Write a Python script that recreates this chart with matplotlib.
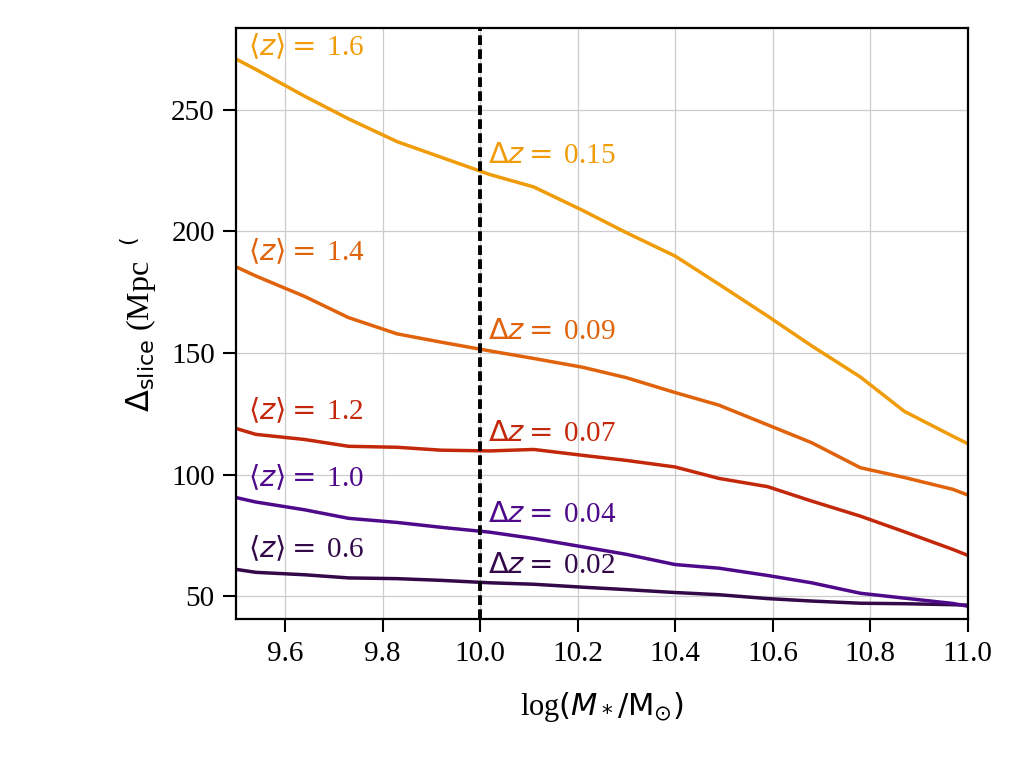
import numpy as np
import matplotlib
matplotlib.use('Agg')
import matplotlib.pyplot as plt

plt.rcParams['font.family'] = 'serif'
plt.rcParams['font.serif'] = ['Liberation Serif', 'DejaVu Serif']
plt.rcParams['mathtext.fontset'] = 'dejavusans'

# log stellar mass grid (bin centres, clipped at the axis edges)
log_mass = [9.50, 9.54, 9.64, 9.73, 9.83, 9.92, 10.02, 10.11, 10.21,
            10.30, 10.40, 10.49, 10.59, 10.68, 10.78, 10.87, 10.97, 11.00]

# slice thickness for each mean redshift
slice_z06 = [61.0, 59.8, 58.8, 57.5, 57.2, 56.5, 55.5, 54.9, 53.7,
             52.7, 51.5, 50.6, 49.0, 48.0, 47.1, 46.9, 46.5, 46.3]
slice_z10 = [90.5, 88.7, 85.5, 82.0, 80.3, 78.3, 76.3, 73.7, 70.3,
             67.2, 63.0, 61.5, 58.5, 55.5, 51.2, 49.2, 47.0, 45.9]
slice_z12 = [118.9, 116.5, 114.4, 111.6, 111.2, 110.0, 109.7, 110.3, 107.9,
             105.8, 103.1, 98.4, 95.0, 89.1, 82.9, 76.5, 69.2, 66.8]
slice_z14 = [185.3, 181.6, 173.2, 164.5, 157.8, 154.4, 150.8, 147.7, 144.1,
             139.8, 133.7, 128.5, 120.4, 113.1, 102.8, 98.8, 93.9, 91.6]
slice_z16 = [270.7, 266.5, 255.5, 246.2, 236.8, 230.4, 223.3, 218.2, 208.6,
             199.4, 189.8, 178.2, 165.1, 152.9, 140.1, 126.0, 115.7, 112.7]

z_labels = ["0.6", "1.0", "1.2", "1.4", "1.6"]
dz_labels = ["0.02", "0.04", "0.07", "0.09", "0.15"]
series = [slice_z06, slice_z10, slice_z12, slice_z14, slice_z16]
colors = ["#33094a", "#4f0a8c", "#c3280a", "#e0620a", "#f09c08"]

# label anchor heights (data units)
z_label_y = [69.8, 99.0, 126.5, 191.6, 275.9]
dz_label_y = [62.3, 83.3, 116.7, 158.6, 231.0]
mass_cut = 10.0

fig = plt.figure(figsize=(10.1, 7.58), dpi=100)
ax = fig.add_axes([0.234, 0.183, 0.724, 0.780])

for vals, col, zl, dzl, yz, ydz in zip(series, colors, z_labels, dz_labels,
                                        z_label_y, dz_label_y):
    ax.plot(log_mass, vals, color=col, lw=2.5)
    ax.text(9.523, yz, r"$\langle z\rangle =\,$" + zl, color=col, fontsize=21,
            va='center', ha='left')
    ax.text(10.017, ydz, r"$\Delta z =\,$" + dzl, color=col, fontsize=21,
            va='center', ha='left')

ax.axvline(mass_cut, color='black', lw=2.8, ls=(0, (2.5, 1.1)))

ax.set_xlim(9.5, 11.0)
ax.set_ylim(40.5, 283.5)
ax.set_xticks([9.6, 9.8, 10.0, 10.2, 10.4, 10.6, 10.8, 11.0])
ax.set_yticks([50, 100, 150, 200, 250])
ax.grid(color='#cccccc', lw=0.9)
ax.set_axisbelow(True)
ax.tick_params(direction='out', length=9.5, width=1.5, labelsize=21, pad=6)
for sp in ax.spines.values():
    sp.set_linewidth(1.6)

ax.set_xlabel(r"log$(M_*/\mathrm{M}_{\odot})$", fontsize=22, labelpad=17)
ax.set_ylabel(r"$\Delta_{\mathrm{slice}}$ (Mpc  $^{(}$", fontsize=23, labelpad=9)

fig.savefig("out.png", dpi=100)
